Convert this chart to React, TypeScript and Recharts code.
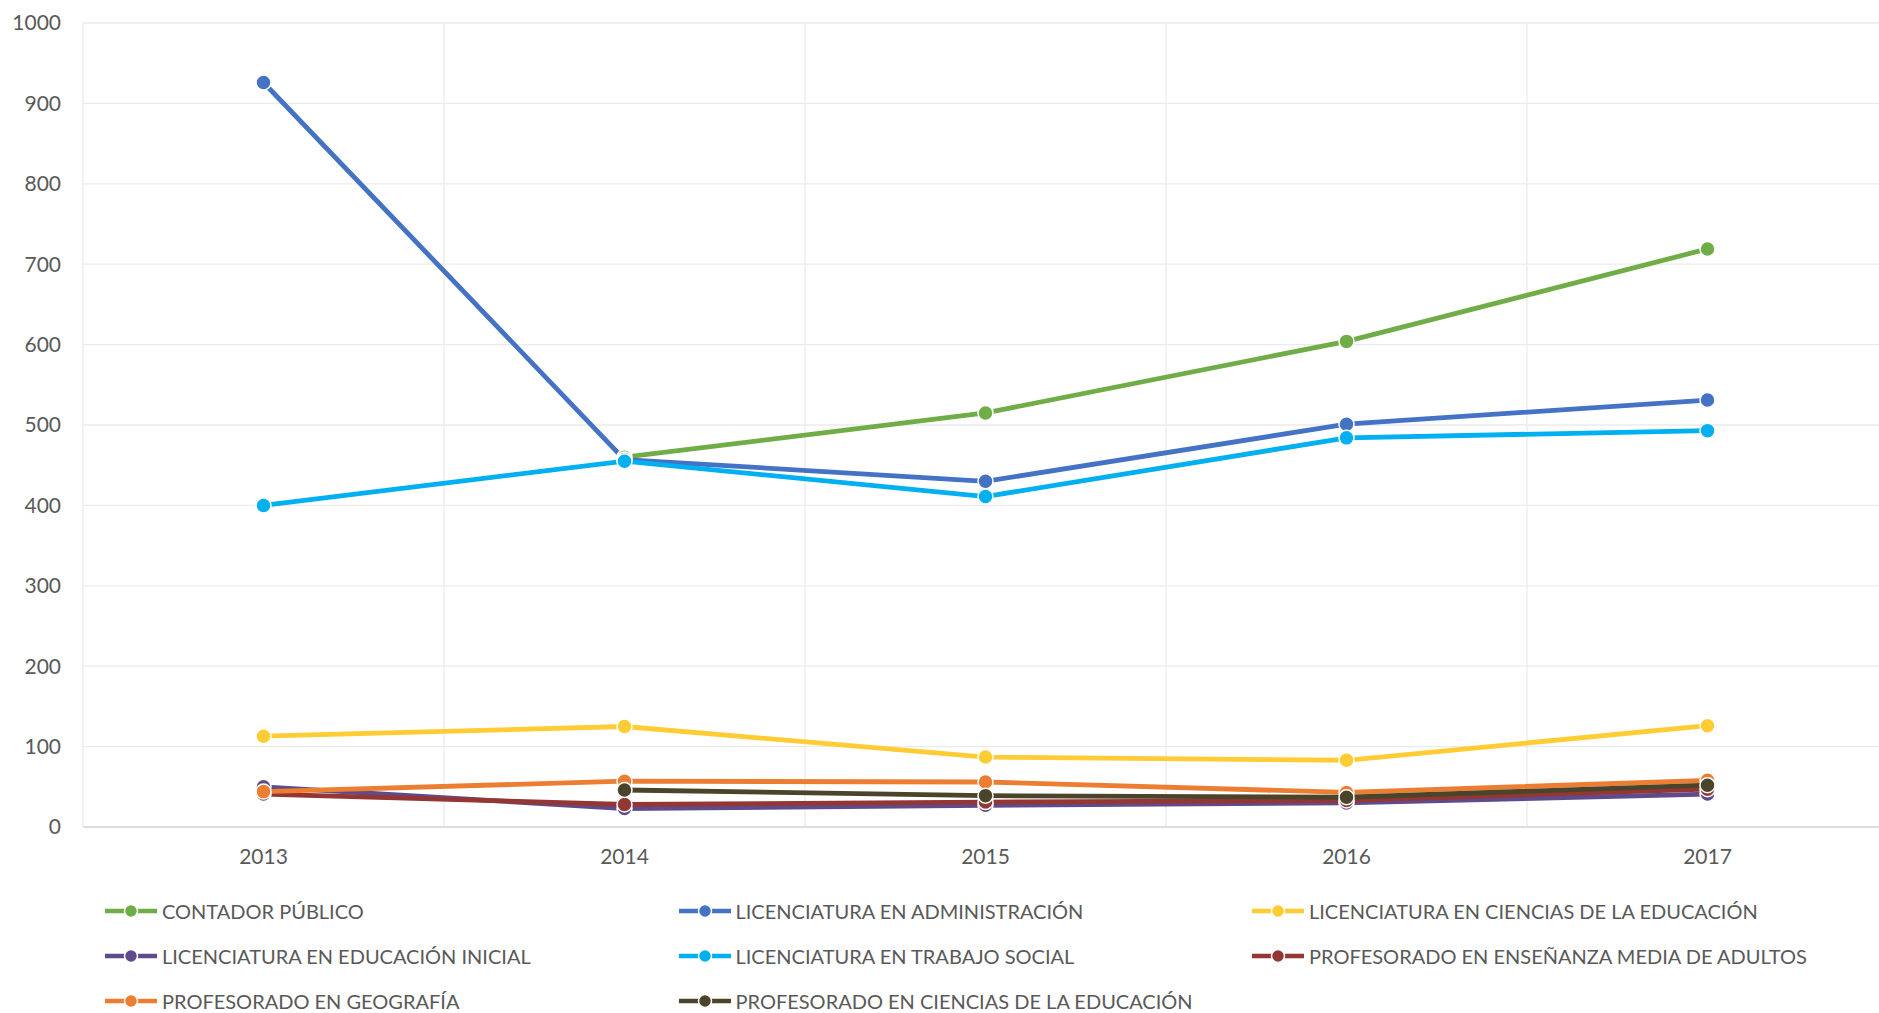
import { LineChart, Line, XAxis, YAxis, CartesianGrid } from 'recharts';

const years = ['2013', '2014', '2015', '2016', '2017'];

const contadorPublico = [null, 460, 515, 604, 719];
const licAdministracion = [926, 457, 430, 501, 531];
const licCienciasEducacion = [113, 125, 87, 83, 126];
const licEducacionInicial = [50, 23, 27, 30, 41];
const licTrabajoSocial = [400, 455, 411, 484, 493];
const profMediaAdultos = [41, 28, 31, 33, 47];
const profGeografia = [44, 57, 56, 43, 58];
const profCienciasEducacion = [null, 46, 39, 37, 52];

const yTicks = [0, 100, 200, 300, 400, 500, 600, 700, 800, 900, 1000];

const series = [
  { key: 'cp', name: 'CONTADOR PÚBLICO', color: '#70AD47', values: contadorPublico },
  { key: 'la', name: 'LICENCIATURA EN ADMINISTRACIÓN', color: '#4472C4', values: licAdministracion },
  { key: 'lce', name: 'LICENCIATURA EN CIENCIAS DE LA EDUCACIÓN', color: '#FFCC33', values: licCienciasEducacion },
  { key: 'lei', name: 'LICENCIATURA EN EDUCACIÓN INICIAL', color: '#5F4B8B', values: licEducacionInicial },
  { key: 'lts', name: 'LICENCIATURA EN TRABAJO SOCIAL', color: '#00B0F0', values: licTrabajoSocial },
  { key: 'pma', name: 'PROFESORADO EN ENSEÑANZA MEDIA DE ADULTOS', color: '#943634', values: profMediaAdultos },
  { key: 'pg', name: 'PROFESORADO EN GEOGRAFÍA', color: '#ED7D31', values: profGeografia },
  { key: 'pce', name: 'PROFESORADO EN CIENCIAS DE LA EDUCACIÓN', color: '#4A452A', values: profCienciasEducacion },
];

const data = years.map((year, i) => {
  const row: { [k: string]: string | number | null } = { year };
  series.forEach((s) => {
    row[s.key] = s.values[i];
  });
  return row;
});

const textColor = '#595959';

// vertical grid lines sit on the category boundaries, not on the ticks
const boundaryLines = ({ offset }: any) =>
  years.concat(['']).map((_, i) => offset.left + (i * offset.width) / years.length);

export default function App() {
  return (
    <div style={{ position: 'relative', width: 1879, height: 1013, overflow: 'hidden', fontFamily: 'Lato', background: '#fff' }}>
      <style>{'body{margin:0}'}</style>
      <LineChart width={1900} height={1013} data={data} margin={{ top: 23, right: 12, left: 0, bottom: 136 }}>
        <CartesianGrid stroke="#ebebeb" strokeWidth={1.3} verticalCoordinatesGenerator={boundaryLines} />
        <XAxis
          dataKey="year"
          scale="band"
          height={50}
          tickLine={false}
          axisLine={{ stroke: '#d9d9d9', strokeWidth: 1.5 }}
          tick={{ fill: textColor, fontSize: 21 }}
          tickMargin={16}
        />
        <YAxis
          width={83}
          domain={[0, 1000]}
          ticks={yTicks}
          axisLine={false}
          tickLine={false}
          tick={{ fill: textColor, fontSize: 21 }}
          tickMargin={16}
        />
        {series.map((s) => (
          <Line
            key={s.key}
            dataKey={s.key}
            name={s.name}
            stroke={s.color}
            strokeWidth={4.8}
            dot={{ r: 7.5, fill: s.color, stroke: '#fff', strokeWidth: 1.5 }}
            activeDot={false}
            isAnimationActive={false}
          />
        ))}
      </LineChart>
      {series.map((s, i) => {
        const col = i % 3;
        const row = Math.floor(i / 3);
        return (
          <div
            key={s.key}
            style={{
              position: 'absolute',
              left: 105 + col * 573.5,
              top: 911 + row * 45 - 12,
              height: 24,
              display: 'flex',
              alignItems: 'center',
              color: textColor,
              fontSize: 20,
              whiteSpace: 'nowrap',
            }}
          >
            <svg width={52} height={16} style={{ marginRight: 5 }}>
              <line x1={0} y1={8} x2={52} y2={8} stroke={s.color} strokeWidth={4.5} />
              <circle cx={26} cy={8} r={6.5} fill={s.color} stroke="#fff" strokeWidth={1.5} />
            </svg>
            <span>{s.name}</span>
          </div>
        );
      })}
    </div>
  );
}
